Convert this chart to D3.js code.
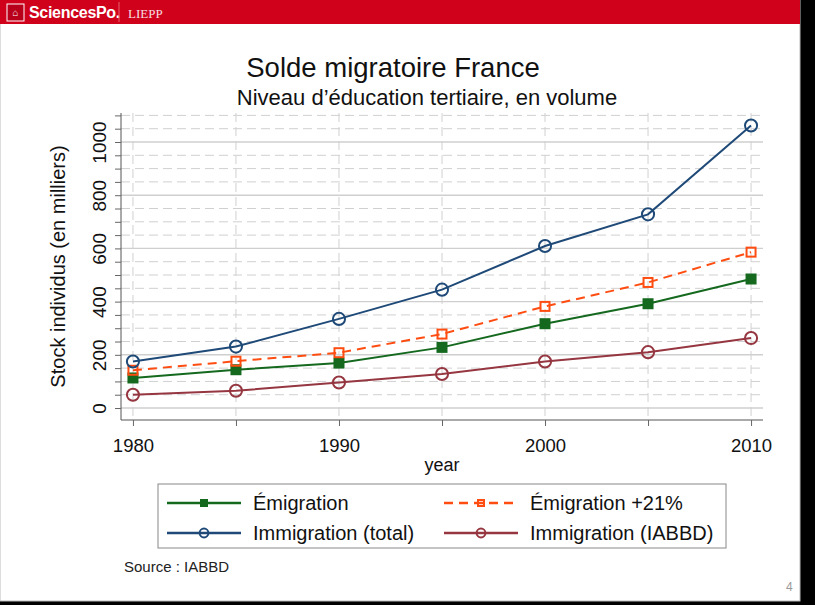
<!DOCTYPE html>
<html>
<head>
<meta charset="utf-8">
<script src="https://cdn.jsdelivr.net/npm/d3@7"></script>
<style>
  body { margin: 0; background: #000; }
  svg { display: block; font-family: "Liberation Sans", Arial, sans-serif; }
</style>
</head>
<body>
<script>
// data
const years = [1980, 1985, 1990, 1995, 2000, 2005, 2010];
const emigration = [113, 144, 169, 228, 317, 392, 485];
const emigration21 = [142, 176, 208, 278, 382, 472, 586];
const immigrationTotal = [175, 231, 335, 445, 609, 728, 1062];
const immigrationIABBD = [50, 65, 96, 128, 175, 210, 263];
const yTicks = [0, 200, 400, 600, 800, 1000];
const xTicks = [1980, 1990, 2000, 2010];

const series = [
  { name: 'Émigration', values: emigration, color: '#14691e', dash: null, marker: 'square' },
  { name: 'Émigration +21%', values: emigration21, color: '#ff4d12', dash: '9,6', marker: 'hsquare' },
  { name: 'Immigration (total)', values: immigrationTotal, color: '#1f4a78', dash: null, marker: 'circle' },
  { name: 'Immigration (IABBD)', values: immigrationIABBD, color: '#953640', dash: null, marker: 'circle' },
];

const width = 815;
const height = 605;

const svg = d3.select('body').append('svg')
  .attr('width', width)
  .attr('height', height);

// slide page
svg.append('rect').attr('width', width).attr('height', height).attr('fill', '#000');
svg.append('rect').attr('x', 0).attr('y', 0).attr('width', 800).attr('height', 601)
  .attr('fill', '#fff').attr('stroke', '#bbb').attr('stroke-width', 1);

// header band
svg.append('rect').attr('x', 0).attr('y', 0).attr('width', 800).attr('height', 24).attr('fill', '#d0021b');
const logo = svg.append('g').attr('transform', 'translate(7,4)');
logo.append('rect').attr('width', 17).attr('height', 17).attr('fill', '#b8001a').attr('stroke', '#fff').attr('stroke-width', 1);
logo.append('text').attr('x', 8.5).attr('y', 12).attr('text-anchor', 'middle')
  .attr('fill', '#fff').attr('font-size', 10).attr('font-weight', 'bold').text('⌂');
svg.append('text').attr('x', 29).attr('y', 18).attr('fill', '#fff')
  .attr('font-size', 16).attr('font-weight', 'bold').attr('letter-spacing', -0.3).text('SciencesPo.');
svg.append('line').attr('x1', 119).attr('x2', 119).attr('y1', 2).attr('y2', 22)
  .attr('stroke', '#e8606e').attr('stroke-width', 1);
svg.append('text').attr('x', 128).attr('y', 18).attr('fill', '#f6dfe0')
  .attr('font-size', 13).attr('font-family', '"Liberation Serif", serif').text('LIEPP');

// titles
svg.append('text').attr('x', 393).attr('y', 77).attr('text-anchor', 'middle')
  .attr('font-size', 27.5).attr('fill', '#111').text('Solde migratoire France');
svg.append('text').attr('x', 427).attr('y', 105).attr('text-anchor', 'middle')
  .attr('font-size', 22).attr('fill', '#111').text('Niveau d\u2019éducation tertiaire, en volume');

// plot area
const pLeft = 121, pRight = 763, pTop = 113, pBottom = 420;
const x = d3.scaleLinear().domain([1979.42, 2010.58]).range([pLeft, pRight]);
const y = d3.scaleLinear().domain([-45, 1109]).range([pBottom, pTop]);

const grid = svg.append('g');
// minor horizontal grid every 50 (dashed), major every 200 (solid)
d3.range(0, 1101, 50).forEach((v) => {
  const major = v % 200 === 0;
  grid.append('line')
    .attr('x1', pLeft).attr('x2', pRight)
    .attr('y1', y(v)).attr('y2', y(v))
    .attr('stroke', major ? '#cfcfcf' : '#d0d0d0')
    .attr('stroke-width', major ? 1.4 : 1)
    .attr('stroke-dasharray', major ? null : '9,5');
});
// vertical dashed grid every 5 years
years.forEach((yr) => {
  grid.append('line')
    .attr('x1', x(yr)).attr('x2', x(yr))
    .attr('y1', pTop).attr('y2', pBottom)
    .attr('stroke', '#d0d0d0').attr('stroke-width', 1)
    .attr('stroke-dasharray', '9,5');
});

// y axis
const yAxis = svg.append('g').attr('transform', `translate(${pLeft},0)`)
  .call(d3.axisLeft(y).tickValues(d3.range(0, 1101, 50)).tickSize(6).tickFormat(''));
yAxis.select('.domain').attr('d', `M0,${pTop}V${pBottom}`).attr('stroke', '#555');
yAxis.selectAll('.tick line').attr('stroke', '#666');
yAxis.selectAll('.tick').filter((d) => yTicks.indexOf(d) >= 0).append('text')
  .attr('transform', 'translate(-15,0) rotate(-90)')
  .attr('text-anchor', 'middle')
  .attr('fill', '#111')
  .attr('font-size', 19)
  .text((d) => d);

// x axis
const xAxis = svg.append('g').attr('transform', `translate(0,${pBottom})`)
  .call(d3.axisBottom(x).tickValues(years).tickSize(6).tickFormat(''));
xAxis.select('.domain').attr('d', `M${pLeft},0H${pRight}`).attr('stroke', '#555');
xAxis.selectAll('.tick line').attr('stroke', '#666');
xAxis.selectAll('.tick').filter((d) => xTicks.indexOf(d) >= 0).append('text')
  .attr('y', 32)
  .attr('text-anchor', 'middle')
  .attr('fill', '#111')
  .attr('font-size', 18.5)
  .text((d) => d);

svg.append('text').attr('x', (pLeft + pRight) / 2).attr('y', 471).attr('text-anchor', 'middle')
  .attr('font-size', 18).attr('fill', '#111').text('year');
svg.append('text').attr('transform', `translate(65,${(pTop + pBottom) / 2}) rotate(-90)`)
  .attr('text-anchor', 'middle').attr('font-size', 20).attr('fill', '#111')
  .text('Stock individus (en milliers)');

// lines and markers
const line = d3.line().x((d, i) => x(years[i])).y((d) => y(d));
function drawMarker(g, kind, color, cx, cy, s) {
  if (kind === 'circle') {
    g.append('circle').attr('cx', cx).attr('cy', cy).attr('r', s * 0.55)
      .attr('fill', 'none').attr('stroke', color).attr('stroke-width', 2);
  } else if (kind === 'square') {
    g.append('rect').attr('x', cx - s / 2).attr('y', cy - s / 2).attr('width', s).attr('height', s)
      .attr('fill', color);
  } else {
    g.append('rect').attr('x', cx - s / 2 + 1).attr('y', cy - s / 2 + 1).attr('width', s - 2).attr('height', s - 2)
      .attr('fill', 'none').attr('stroke', color).attr('stroke-width', 2);
  }
}
const drawOrder = [3, 0, 1, 2];
drawOrder.forEach((k) => {
  const s = series[k];
  const g = svg.append('g');
  g.append('path').datum(s.values).attr('d', line)
    .attr('fill', 'none').attr('stroke', s.color).attr('stroke-width', 2)
    .attr('stroke-dasharray', s.dash);
  s.values.forEach((v, i) => drawMarker(g, s.marker, s.color, x(years[i]), y(v), 11));
});

// legend
const legend = svg.append('g');
legend.append('rect').attr('x', 158).attr('y', 484).attr('width', 568).attr('height', 64)
  .attr('fill', '#fff').attr('stroke', '#888').attr('stroke-width', 1);
const legPos = [[167, 503], [444, 503], [167, 533], [444, 533]];
series.forEach((s, i) => {
  const [lx, ly] = legPos[i];
  const g = legend.append('g');
  g.append('line').attr('x1', lx).attr('x2', lx + 74).attr('y1', ly).attr('y2', ly)
    .attr('stroke', s.color).attr('stroke-width', 2.4).attr('stroke-dasharray', s.dash);
  drawMarker(g, s.marker, s.color, lx + 37, ly, 8);
  g.append('text').attr('x', lx + 86).attr('y', ly + 7).attr('font-size', 20).attr('fill', '#111').text(s.name);
});

svg.append('text').attr('x', 124).attr('y', 572).attr('font-size', 15).attr('fill', '#222').text('Source : IABBD');
svg.append('text').attr('x', 786).attr('y', 591).attr('font-size', 12).attr('fill', '#999').text('4');
</script>
</body>
</html>
